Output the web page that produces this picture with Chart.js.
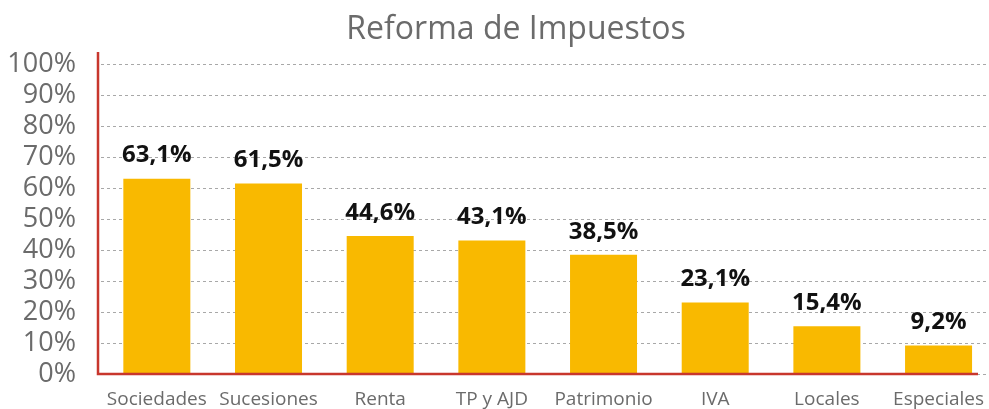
<!DOCTYPE html>
<html>
<head>
<meta charset="utf-8">
<script src="https://cdn.jsdelivr.net/npm/chart.js@4.4.1/dist/chart.umd.min.js"></script>
<style>
    html, body { margin: 0; padding: 0; background: #fff; overflow: hidden; }
    #wrap { width: 998px; height: 409px; }
</style>
</head>
<body>
<div id="wrap"><canvas id="chart"></canvas></div>
<script>
// Data
const categories = ['Sociedades', 'Sucesiones', 'Renta', 'TP y AJD', 'Patrimonio', 'IVA', 'Locales', 'Especiales'];
const values = [63.1, 61.5, 44.6, 43.1, 38.5, 23.1, 15.4, 9.2];
const yTicks = [0, 10, 20, 30, 40, 50, 60, 70, 80, 90, 100];
const chartTitle = 'Reforma de Impuestos';

const FONT = "'Open Sans', sans-serif";
const GREY = '#6b6b6b';
const AXIS_RED = '#c8372d';
const BAR_COLOR = '#f9b900';

// Title drawn at a fixed centre, like the original
const titlePlugin = {
    id: 'titleText',
    afterDraw(chart) {
        const ctx = chart.ctx;
        ctx.save();
        ctx.font = '32px ' + FONT;
        ctx.fillStyle = GREY;
        ctx.textAlign = 'center';
        ctx.textBaseline = 'alphabetic';
        ctx.fillText(chartTitle, 516, 39);
        ctx.restore();
    }
};

// Red left and bottom axis lines
const axisLines = {
    id: 'axisLines',
    afterDatasetsDraw(chart) {
        const { ctx, chartArea } = chart;
        ctx.save();
        ctx.strokeStyle = AXIS_RED;
        ctx.lineWidth = 2.5;
        ctx.beginPath();
        ctx.moveTo(98, chartArea.top);
        ctx.lineTo(98, chartArea.bottom);
        ctx.lineTo(978, chartArea.bottom);
        ctx.stroke();
        ctx.restore();
    }
};

// Value labels above bars
const valueLabels = {
    id: 'valueLabels',
    afterDatasetsDraw(chart) {
        const ctx = chart.ctx;
        const meta = chart.getDatasetMeta(0);
        ctx.save();
        ctx.font = 'bold 24px ' + FONT;
        ctx.fillStyle = '#111';
        ctx.textAlign = 'center';
        ctx.textBaseline = 'bottom';
        meta.data.forEach((bar, i) => {
            const txt = values[i].toFixed(1).replace('.', ',') + '%';
            ctx.fillText(txt, bar.x, bar.y - 11);
        });
        ctx.restore();
    }
};

new Chart(document.getElementById('chart'), {
    type: 'bar',
    data: {
        labels: categories,
        datasets: [{
            data: values,
            backgroundColor: BAR_COLOR,
            borderWidth: 0,
            categoryPercentage: 1,
            barPercentage: 0.6,
        }],
    },
    options: {
        responsive: true,
        maintainAspectRatio: false,
        animation: false,
        layout: { padding: { top: 52, left: 0, right: 0, bottom: 0 } },
        plugins: {
            legend: { display: false },
            tooltip: { enabled: false },
            title: { display: false },
        },
        scales: {
            x: {
                grid: { display: false, drawTicks: false },
                border: { display: false },
                ticks: {
                    color: GREY,
                    font: { family: FONT, size: 19 },
                    padding: 14,
                    maxRotation: 0,
                    autoSkip: false,
                },
                afterFit(scale) { scale.height = 35; },
            },
            y: {
                min: 0,
                max: 104,
                afterBuildTicks(scale) {
                    scale.ticks = yTicks.map(v => ({ value: v }));
                },
                grid: {
                    color: '#a8a8a8',
                    lineWidth: 1,
                    drawTicks: false,
                },
                border: { display: false, dash: [3, 3] },
                ticks: {
                    color: GREY,
                    font: { family: FONT, size: 27 },
                    padding: 25,
                    autoSkip: false,
                    callback: (v) => v + '%',
                },
                afterFit(scale) {
                    scale.width = 101;
                    scale.paddingTop = 0;
                    scale.paddingBottom = 0;
                },
            },
        },
    },
    plugins: [titlePlugin, axisLines, valueLabels],
});
</script>
</body>
</html>
